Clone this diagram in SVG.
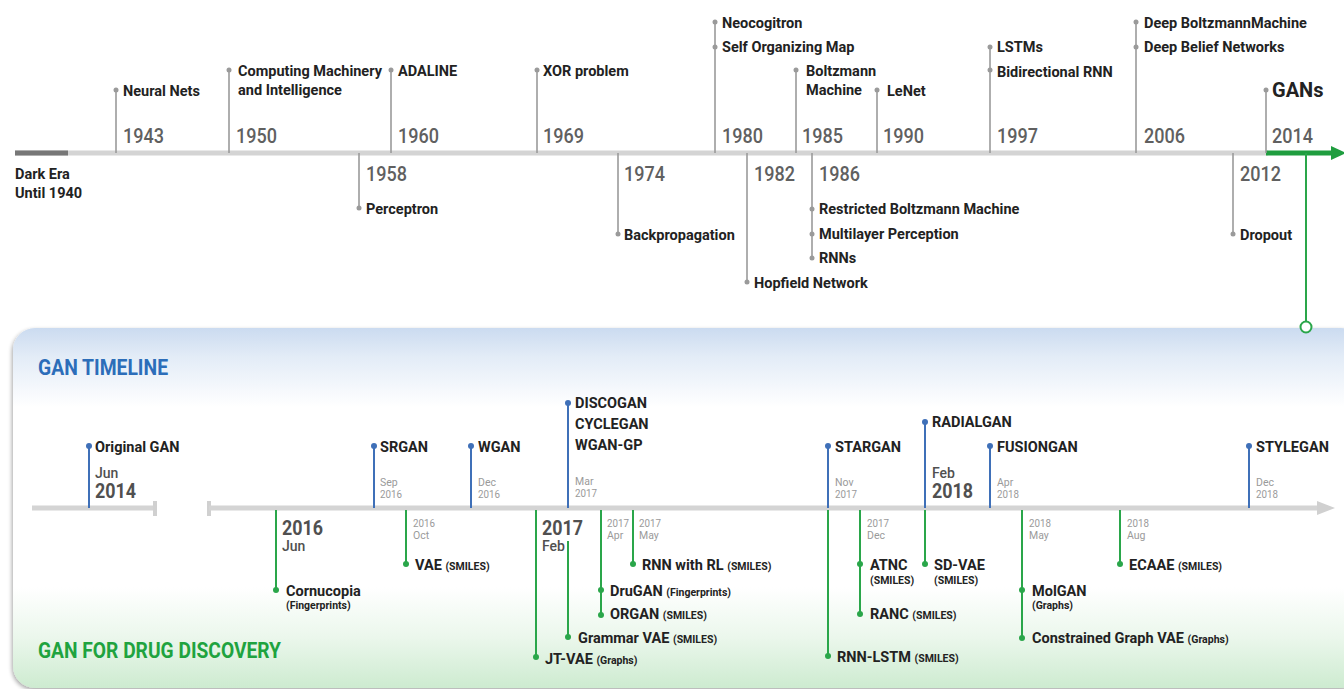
<svg xmlns="http://www.w3.org/2000/svg" width="1344" height="689" viewBox="0 0 1344 689">
<defs>
<linearGradient id="panelGrad" x1="0" y1="0" x2="0" y2="1">
<stop offset="0" stop-color="#cbdbf0"/>
<stop offset="0.08" stop-color="#e3ecf7"/>
<stop offset="0.22" stop-color="#ffffff"/>
<stop offset="0.72" stop-color="#ffffff"/>
<stop offset="0.86" stop-color="#ebf7ec"/>
<stop offset="1" stop-color="#cdebd0"/>
</linearGradient>
<filter id="shadow" x="-5%" y="-10%" width="110%" height="120%">
<feGaussianBlur in="SourceAlpha" stdDeviation="2"/>
<feOffset dx="-1" dy="2" result="b"/>
<feComponentTransfer><feFuncA type="linear" slope="0.35"/></feComponentTransfer>
<feMerge><feMergeNode/><feMergeNode in="SourceGraphic"/></feMerge>
</filter>
</defs>
<style>
text { font-family: Roboto, "Liberation Sans", sans-serif; }
.lbl { font-weight: 700; font-size: 14.5px; fill: #222; }
.gans { font-weight: 700; font-size: 20px; fill: #222; }
.yr { font-weight: 500; font-size: 21px; fill: #606060; }
.sm { font-size: 10.5px; }
.dt { font-weight: 400; font-size: 10.5px; fill: #9a9a9a; }
.by { font-weight: 700; font-size: 21px; fill: #505050; }
.mo { font-weight: 500; font-size: 14px; fill: #505050; }
.hb { font-weight: 700; font-size: 22px; fill: #2c6db9; }
.hg { font-weight: 700; font-size: 22px; fill: #1fa33f; }
.stem { stroke: #9a9a9a; stroke-width: 1.6; fill: none; }
.dot { fill: #9a9a9a; }
.bstem { stroke: #3f70b8; stroke-width: 2; fill: none; }
.bdot { fill: #3f70b8; }
.gstem { stroke: #2aa64a; stroke-width: 2; fill: none; }
.gdot { fill: #2aa64a; }
.axis { stroke: #d4d4d4; stroke-width: 5; fill: none; }
</style>
<rect width="1344" height="689" fill="#ffffff"/>

<!-- panel -->
<rect id="panel" x="13" y="328" width="1350" height="360" rx="22" fill="url(#panelGrad)" filter="url(#shadow)"/>
<text class="hb" x="38" y="375" textLength="130" lengthAdjust="spacingAndGlyphs">GAN TIMELINE</text>
<text class="hg" x="38" y="658" textLength="243" lengthAdjust="spacingAndGlyphs">GAN FOR DRUG DISCOVERY</text>

<!-- connectors -->
<g id="connectors">
<line class="axis" x1="15" y1="153" x2="1268" y2="153"/>
<line x1="15" y1="153" x2="68" y2="153" stroke="#777" stroke-width="5"/>
<line x1="1266" y1="153" x2="1334" y2="153" stroke="#1f9d3f" stroke-width="5"/>
<polygon points="1331,146 1346,153 1331,160" fill="#1f9d3f"/>
<line x1="1306" y1="153" x2="1306" y2="321" stroke="#2aa64a" stroke-width="2"/>
<circle cx="1306" cy="327" r="5.5" fill="#ffffff" stroke="#2aa64a" stroke-width="2"/>
<line class="axis" x1="32" y1="508" x2="155" y2="508" stroke="#d0d0d0"/>
<line x1="155" y1="501" x2="155" y2="516" stroke="#d0d0d0" stroke-width="4"/>
<line x1="209" y1="501" x2="209" y2="516" stroke="#d0d0d0" stroke-width="4"/>
<line class="axis" x1="209" y1="508" x2="1320" y2="508" stroke="#d0d0d0"/>
<polygon points="1317,501 1335,508 1317,515" fill="#d0d0d0"/>
</g>

<g id="darkEra">
<text class="lbl" x="15" y="179">Dark Era</text>
<text class="lbl" x="15" y="198">Until 1940</text>
</g>

<!-- top above axis -->
<g id="n1943">
<line class="stem" x1="116" y1="153" x2="116" y2="90"/><circle class="dot" cx="116" cy="90" r="2.5"/>
<text class="lbl" x="123" y="96">Neural Nets</text>
<text class="yr" x="123" y="143" textLength="41" lengthAdjust="spacingAndGlyphs">1943</text>
</g>
<g id="n1950">
<line class="stem" x1="229" y1="153" x2="229" y2="70"/><circle class="dot" cx="229" cy="70" r="2.5"/>
<text class="lbl" x="238" y="76">Computing Machinery</text>
<text class="lbl" x="238" y="95">and Intelligence</text>
<text class="yr" x="236" y="143" textLength="41" lengthAdjust="spacingAndGlyphs">1950</text>
</g>
<g id="n1960">
<line class="stem" x1="391" y1="153" x2="391" y2="70"/><circle class="dot" cx="391" cy="70" r="2.5"/>
<text class="lbl" x="398" y="76">ADALINE</text>
<text class="yr" x="398" y="143" textLength="41" lengthAdjust="spacingAndGlyphs">1960</text>
</g>
<g id="n1969">
<line class="stem" x1="537" y1="153" x2="537" y2="70"/><circle class="dot" cx="537" cy="70" r="2.5"/>
<text class="lbl" x="543" y="76">XOR problem</text>
<text class="yr" x="543" y="143" textLength="41" lengthAdjust="spacingAndGlyphs">1969</text>
</g>
<g id="n1980">
<line class="stem" x1="715" y1="153" x2="715" y2="22"/><circle class="dot" cx="715" cy="22" r="2.5"/><circle class="dot" cx="715" cy="47" r="2.5"/>
<text class="lbl" x="722" y="28">Neocogitron</text>
<text class="lbl" x="722" y="52">Self Organizing Map</text>
<text class="yr" x="722" y="143" textLength="41" lengthAdjust="spacingAndGlyphs">1980</text>
</g>
<g id="n1985">
<line class="stem" x1="796" y1="153" x2="796" y2="70"/><circle class="dot" cx="796" cy="70" r="2.5"/>
<text class="lbl" x="806" y="76">Boltzmann</text>
<text class="lbl" x="806" y="95">Machine</text>
<text class="yr" x="802" y="143" textLength="41" lengthAdjust="spacingAndGlyphs">1985</text>
</g>
<g id="n1990">
<line class="stem" x1="877" y1="153" x2="877" y2="90"/><circle class="dot" cx="877" cy="90" r="2.5"/>
<text class="lbl" x="887" y="96">LeNet</text>
<text class="yr" x="883" y="143" textLength="41" lengthAdjust="spacingAndGlyphs">1990</text>
</g>
<g id="n1997">
<line class="stem" x1="990" y1="153" x2="990" y2="47"/><circle class="dot" cx="990" cy="47" r="2.5"/><circle class="dot" cx="990" cy="70" r="2.5"/>
<text class="lbl" x="997" y="52">LSTMs</text>
<text class="lbl" x="997" y="77">Bidirectional RNN</text>
<text class="yr" x="997" y="143" textLength="41" lengthAdjust="spacingAndGlyphs">1997</text>
</g>
<g id="n2006">
<line class="stem" x1="1136" y1="153" x2="1136" y2="22"/><circle class="dot" cx="1136" cy="22" r="2.5"/><circle class="dot" cx="1136" cy="47" r="2.5"/>
<text class="lbl" x="1144" y="28">Deep BoltzmannMachine</text>
<text class="lbl" x="1144" y="52">Deep Belief Networks</text>
<text class="yr" x="1144" y="143" textLength="41" lengthAdjust="spacingAndGlyphs">2006</text>
</g>
<g id="n2014">
<line class="stem" x1="1266" y1="153" x2="1266" y2="90"/><circle class="dot" cx="1266" cy="90" r="2.5"/>
<text class="gans" x="1272" y="97">GANs</text>
<text class="yr" x="1272" y="143" textLength="41" lengthAdjust="spacingAndGlyphs">2014</text>
</g>

<!-- top below axis -->
<g id="n1958">
<line class="stem" x1="359" y1="153" x2="359" y2="208"/><circle class="dot" cx="359" cy="208" r="2.5"/>
<text class="yr" x="366" y="181" textLength="41" lengthAdjust="spacingAndGlyphs">1958</text>
<text class="lbl" x="366" y="214">Perceptron</text>
</g>
<g id="n1974">
<line class="stem" x1="618" y1="153" x2="618" y2="234"/><circle class="dot" cx="618" cy="234" r="2.5"/>
<text class="yr" x="624" y="181" textLength="41" lengthAdjust="spacingAndGlyphs">1974</text>
<text class="lbl" x="624" y="240">Backpropagation</text>
</g>
<g id="n1982">
<line class="stem" x1="747" y1="153" x2="747" y2="282"/><circle class="dot" cx="747" cy="282" r="2.5"/>
<text class="yr" x="754" y="181" textLength="41" lengthAdjust="spacingAndGlyphs">1982</text>
<text class="lbl" x="754" y="288">Hopfield Network</text>
</g>
<g id="n1986">
<line class="stem" x1="812" y1="153" x2="812" y2="258"/><circle class="dot" cx="812" cy="209" r="2.5"/><circle class="dot" cx="812" cy="234" r="2.5"/><circle class="dot" cx="812" cy="258" r="2.5"/>
<text class="yr" x="819" y="181" textLength="41" lengthAdjust="spacingAndGlyphs">1986</text>
<text class="lbl" x="819" y="214">Restricted Boltzmann Machine</text>
<text class="lbl" x="819" y="239">Multilayer Perception</text>
<text class="lbl" x="819" y="263">RNNs</text>
</g>
<g id="n2012">
<line class="stem" x1="1233" y1="153" x2="1233" y2="234"/><circle class="dot" cx="1233" cy="234" r="2.5"/>
<text class="yr" x="1240" y="181" textLength="41" lengthAdjust="spacingAndGlyphs">2012</text>
<text class="lbl" x="1240" y="240">Dropout</text>
</g>

<!-- GAN timeline (blue, above) -->
<g id="gOriginal">
<line class="bstem" x1="89" y1="508" x2="89" y2="446"/><circle class="bdot" cx="89" cy="446" r="3"/>
<text class="lbl" x="95" y="452">Original GAN</text>
<text class="mo" x="95" y="478">Jun</text>
<text class="by" x="95" y="498" textLength="41" lengthAdjust="spacingAndGlyphs">2014</text>
</g>
<g id="gSRGAN">
<line class="bstem" x1="374" y1="508" x2="374" y2="446"/><circle class="bdot" cx="374" cy="446" r="3"/>
<text class="lbl" x="380" y="452">SRGAN</text>
<text class="dt" x="380" y="485.5">Sep</text>
<text class="dt" x="380" y="498" textLength="22" lengthAdjust="spacingAndGlyphs">2016</text>
</g>
<g id="gWGAN">
<line class="bstem" x1="471" y1="508" x2="471" y2="446"/><circle class="bdot" cx="471" cy="446" r="3"/>
<text class="lbl" x="478" y="452">WGAN</text>
<text class="dt" x="478" y="485.5">Dec</text>
<text class="dt" x="478" y="498" textLength="22" lengthAdjust="spacingAndGlyphs">2016</text>
</g>
<g id="gDISCOGAN">
<line class="bstem" x1="568" y1="508" x2="568" y2="403"/><circle class="bdot" cx="568" cy="403" r="3"/>
<text class="lbl" x="575" y="408">DISCOGAN</text>
<text class="lbl" x="575" y="429">CYCLEGAN</text>
<text class="lbl" x="575" y="450">WGAN-GP</text>
<text class="dt" x="575" y="484.5">Mar</text>
<text class="dt" x="575" y="497" textLength="22" lengthAdjust="spacingAndGlyphs">2017</text>
</g>
<g id="gSTARGAN">
<line class="bstem" x1="828" y1="508" x2="828" y2="446"/><circle class="bdot" cx="828" cy="446" r="3"/>
<text class="lbl" x="835" y="452">STARGAN</text>
<text class="dt" x="835" y="485.5">Nov</text>
<text class="dt" x="835" y="498" textLength="22" lengthAdjust="spacingAndGlyphs">2017</text>
</g>
<g id="gRADIALGAN">
<line class="bstem" x1="925" y1="508" x2="925" y2="422"/><circle class="bdot" cx="925" cy="422" r="3"/>
<text class="lbl" x="932" y="427">RADIALGAN</text>
<text class="mo" x="932" y="478">Feb</text>
<text class="by" x="932" y="498" textLength="41" lengthAdjust="spacingAndGlyphs">2018</text>
</g>
<g id="gFUSIONGAN">
<line class="bstem" x1="990" y1="508" x2="990" y2="446"/><circle class="bdot" cx="990" cy="446" r="3"/>
<text class="lbl" x="997" y="452">FUSIONGAN</text>
<text class="dt" x="997" y="485.5">Apr</text>
<text class="dt" x="997" y="498" textLength="22" lengthAdjust="spacingAndGlyphs">2018</text>
</g>
<g id="gSTYLEGAN">
<line class="bstem" x1="1249" y1="508" x2="1249" y2="446"/><circle class="bdot" cx="1249" cy="446" r="3"/>
<text class="lbl" x="1256" y="452">STYLEGAN</text>
<text class="dt" x="1256" y="485.5">Dec</text>
<text class="dt" x="1256" y="498" textLength="22" lengthAdjust="spacingAndGlyphs">2018</text>
</g>

<!-- Drug discovery (green, below) -->
<g id="dCornucopia">
<line class="gstem" x1="276" y1="510" x2="276" y2="590"/><circle class="gdot" cx="276" cy="590" r="3"/>
<text class="by" x="282" y="535" textLength="41" lengthAdjust="spacingAndGlyphs">2016</text>
<text class="mo" x="282" y="551">Jun</text>
<text class="lbl" x="286" y="596">Cornucopia</text>
<text class="lbl sm" x="286" y="609">(Fingerprints)</text>
</g>
<g id="dVAE">
<line class="gstem" x1="406" y1="510" x2="406" y2="564"/><circle class="gdot" cx="406" cy="564" r="3"/>
<text class="dt" x="413" y="526.5" textLength="22" lengthAdjust="spacingAndGlyphs">2016</text>
<text class="dt" x="413" y="539">Oct</text>
<text class="lbl" x="415" y="570">VAE <tspan class="sm">(SMILES)</tspan></text>
</g>
<g id="dJTVAE">
<line class="gstem" x1="536" y1="510" x2="536" y2="657"/><circle class="gdot" cx="536" cy="657" r="3"/>
<text class="by" x="542" y="535" textLength="41" lengthAdjust="spacingAndGlyphs">2017</text>
<text class="mo" x="542" y="551">Feb</text>
<text class="lbl" x="545" y="664">JT-VAE <tspan class="sm">(Graphs)</tspan></text>
</g>
<g id="dGrammarVAE">
<line class="gstem" x1="568" y1="541" x2="568" y2="637"/><circle class="gdot" cx="568" cy="637" r="3"/>
<text class="lbl" x="578" y="643">Grammar VAE <tspan class="sm">(SMILES)</tspan></text>
</g>
<g id="dDruGAN">
<line class="gstem" x1="601" y1="510" x2="601" y2="615"/><circle class="gdot" cx="601" cy="590" r="3"/><circle class="gdot" cx="601" cy="615" r="3"/>
<text class="dt" x="607" y="526.5" textLength="22" lengthAdjust="spacingAndGlyphs">2017</text>
<text class="dt" x="607" y="539">Apr</text>
<text class="lbl" x="610" y="596">DruGAN <tspan class="sm">(Fingerprints)</tspan></text>
<text class="lbl" x="610" y="619">ORGAN <tspan class="sm">(SMILES)</tspan></text>
</g>
<g id="dRNNRL">
<line class="gstem" x1="633" y1="510" x2="633" y2="564"/><circle class="gdot" cx="633" cy="564" r="3"/>
<text class="dt" x="639" y="526.5" textLength="22" lengthAdjust="spacingAndGlyphs">2017</text>
<text class="dt" x="639" y="539">May</text>
<text class="lbl" x="642" y="570">RNN with RL <tspan class="sm">(SMILES)</tspan></text>
</g>
<g id="dRNNLSTM">
<line class="gstem" x1="828" y1="510" x2="828" y2="656"/><circle class="gdot" cx="828" cy="656" r="3"/>
<text class="lbl" x="837" y="662">RNN-LSTM <tspan class="sm">(SMILES)</tspan></text>
</g>
<g id="dATNC">
<line class="gstem" x1="860" y1="510" x2="860" y2="614"/><circle class="gdot" cx="860" cy="564" r="3"/><circle class="gdot" cx="860" cy="614" r="3"/>
<text class="dt" x="867" y="526.5" textLength="22" lengthAdjust="spacingAndGlyphs">2017</text>
<text class="dt" x="867" y="539">Dec</text>
<text class="lbl" x="870" y="570">ATNC</text>
<text class="lbl sm" x="870" y="584">(SMILES)</text>
<text class="lbl" x="870" y="619">RANC <tspan class="sm">(SMILES)</tspan></text>
</g>
<g id="dSDVAE">
<line class="gstem" x1="925" y1="510" x2="925" y2="564"/><circle class="gdot" cx="925" cy="564" r="3"/>
<text class="lbl" x="934" y="570">SD-VAE</text>
<text class="lbl sm" x="934" y="584">(SMILES)</text>
</g>
<g id="dMolGAN">
<line class="gstem" x1="1022" y1="510" x2="1022" y2="638"/><circle class="gdot" cx="1022" cy="590" r="3"/><circle class="gdot" cx="1022" cy="638" r="3"/>
<text class="dt" x="1029" y="526.5" textLength="22" lengthAdjust="spacingAndGlyphs">2018</text>
<text class="dt" x="1029" y="539">May</text>
<text class="lbl" x="1032" y="596">MolGAN</text>
<text class="lbl sm" x="1032" y="609">(Graphs)</text>
<text class="lbl" x="1032" y="643">Constrained Graph VAE <tspan class="sm">(Graphs)</tspan></text>
</g>
<g id="dECAAE">
<line class="gstem" x1="1120" y1="510" x2="1120" y2="564"/><circle class="gdot" cx="1120" cy="564" r="3"/>
<text class="dt" x="1127" y="526.5" textLength="22" lengthAdjust="spacingAndGlyphs">2018</text>
<text class="dt" x="1127" y="539">Aug</text>
<text class="lbl" x="1129" y="570">ECAAE <tspan class="sm">(SMILES)</tspan></text>
</g>
</svg>
